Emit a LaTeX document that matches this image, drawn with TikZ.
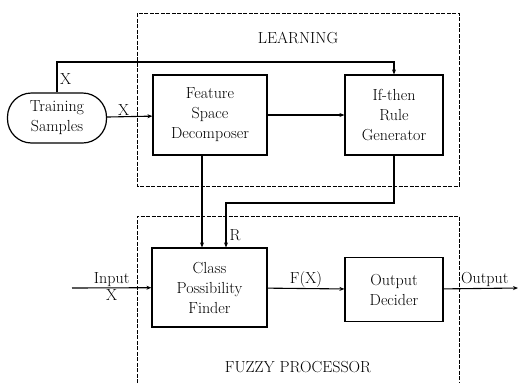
\documentclass[tikz,border=0pt]{standalone}
\usetikzlibrary{arrows.meta,shapes.misc}
\begin{document}
\begin{tikzpicture}[x=1pt,y=-1pt,
  every node/.style={font=\fontsize{16}{20}\selectfont},
  blk/.style={draw,line width=1.2pt,align=center,inner sep=0pt},
  grp/.style={draw,line width=0.9pt,dash pattern=on 4pt off 1.5pt},
  conn/.style={line width=1.1pt,-{Stealth[length=5pt,width=4pt]}},
  lbl/.style={inner sep=1pt}]
\useasboundingbox (0,0) rectangle (518,383);
% group boxes
\draw[grp] (137,13) rectangle (459,186);
\draw[grp] (137,383) |- (459,216) -- (459,383);
\node (learn) at (298,38) {LEARNING};
\node (fuzzy) at (298,367) {FUZZY PROCESSOR};
% blocks
\node[blk,rounded corners=24pt,minimum width=99pt,minimum height=50pt] (ts) at (57,118) {Training\\Samples};
\node[blk,minimum width=114pt,minimum height=80pt] (fsd) at (210,115) {Feature\\Space\\Decomposer};
\node[blk,minimum width=98pt,minimum height=80pt] (rg) at (394,115) {If-then\\Rule\\Generator};
\node[blk,minimum width=115pt,minimum height=79pt] (cpf) at (209.5,287.5) {Class\\Possibility\\Finder};
\node[blk,minimum width=98pt,minimum height=64pt] (od) at (394,289.5) {Output\\Decider};
% coordinates
\coordinate (inp) at (72,288);
\coordinate (outp) at (518,288);
% connectors
\draw[conn] (ts) -- node[lbl,above,xshift=-6pt] {X} (fsd);
\draw[conn] (ts.north) |- (57,62) -| (rg.north);
\node[lbl,anchor=west] (fbx) at (59,79) {X};
\draw[conn] (fsd) -- (rg);
\draw[conn] ([xshift=-8pt]fsd.south) -- ([xshift=-7.5pt]cpf.north);
\draw[conn] (rg.south) -- (394,203) -| node[pos=0.86,right,lbl,xshift=2pt] {R} ([xshift=16.5pt]cpf.north);
\draw[conn] (inp) -- node[lbl,above] {Input} node[lbl,below] {X} (cpf);
\draw[conn] (cpf) -- node[lbl,above] {F(X)} (od);
\draw[conn] (od) -- node[lbl,above,xshift=4pt] {Output} (outp);
\end{tikzpicture}
\end{document}
